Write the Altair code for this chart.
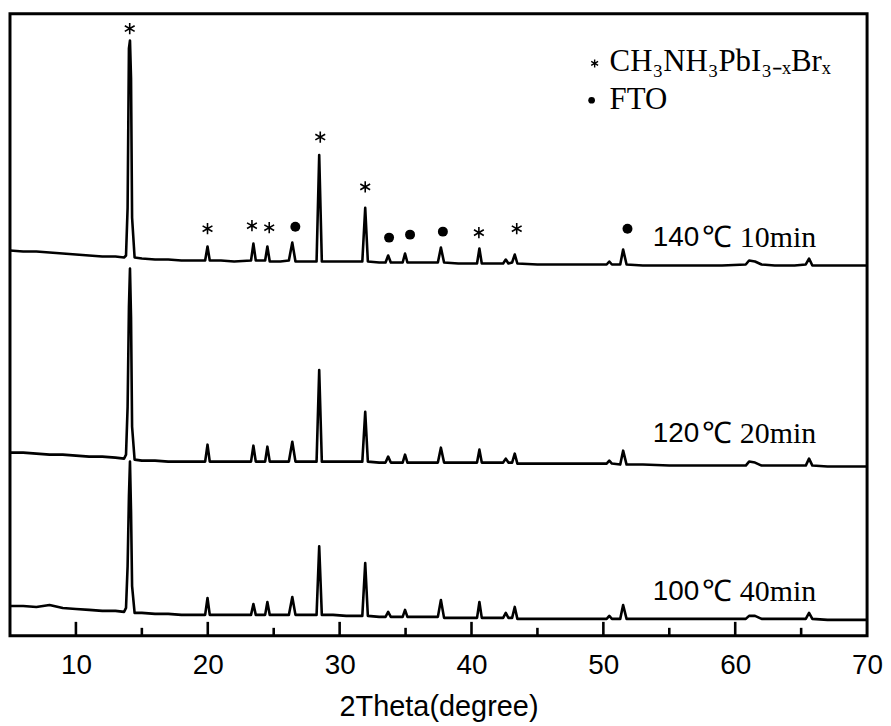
import altair as alt
import pandas as pd

# ---- data ----
two_theta = [5.0, 6.0, 7.0, 8.0, 9.0, 10.0, 11.0, 12.0, 13.0, 13.65,
             13.8, 13.92, 14.02, 14.1, 14.18, 14.26, 14.45,
             15.0, 16.0, 17.0, 18.0, 19.0, 19.8,
             19.98, 20.15, 21.0, 22.0,
             23.28, 23.46, 23.64,
             24.35, 24.52, 24.7,
             25.5, 26.15, 26.41, 26.65,
             27.5, 28.25, 28.45, 28.65,
             29.5, 30.5, 31.72, 31.94, 32.14,
             33.0, 33.48, 33.68, 33.88,
             34.78, 34.96, 35.14,
             36.5, 37.45, 37.68, 37.92,
             39.0, 40.42, 40.6, 40.78,
             42.4, 42.6, 42.8,
             43.08, 43.28, 43.48,
             45.0, 47.0, 49.0,
             50.25, 50.45, 50.65,
             51.28, 51.5, 51.76,
             53.0, 55.0, 57.0, 59.0,
             60.8, 61.05, 61.5, 62.0,
             63.0, 64.5,
             65.35, 65.6, 65.85,
             67.0, 68.5, 70.0]

intensity_140 = [387, 386, 386, 385, 384, 383, 382, 381, 381, 380,
                 382, 430, 590, 598, 560, 420, 380,
                 379, 378, 378, 377, 377, 377,
                 391, 377, 377, 376,
                 377, 394, 377,
                 377, 391, 376,
                 376, 377, 395, 376,
                 376, 376, 483, 376,
                 376, 376, 376, 430, 376,
                 375, 375, 382, 375,
                 375, 384, 375,
                 375, 375, 390, 375,
                 374, 374, 389, 374,
                 374, 378, 374,
                 375, 383, 374,
                 373, 373, 373,
                 373, 376, 373,
                 373, 388, 373,
                 372, 372, 372, 372,
                 373, 377, 376, 373,
                 372, 372,
                 373, 379, 372,
                 372, 372, 372]

intensity_120 = [184, 184, 183, 182, 182, 181, 180, 180, 179, 178,
                 182, 230, 330, 369, 320, 210, 177,
                 176, 176, 175, 175, 175, 175,
                 192, 175, 175, 175,
                 175, 191, 175,
                 175, 190, 175,
                 175, 175, 195, 175,
                 175, 175, 267, 175,
                 175, 175, 175, 225, 175,
                 174, 174, 180, 174,
                 174, 182, 174,
                 174, 174, 189, 174,
                 174, 174, 187, 174,
                 174, 178, 174,
                 174, 183, 173,
                 173, 173, 173,
                 173, 176, 173,
                 172, 186, 172,
                 172, 171, 171, 171,
                 171, 175, 174, 171,
                 171, 171,
                 171, 178, 171,
                 170, 170, 170]

intensity_100 = [30, 30, 29, 31, 28, 27, 26, 25, 25, 24,
                 28, 70, 140, 175, 125, 50, 23,
                 23, 22, 22, 21, 21, 21,
                 38, 21, 21, 21,
                 21, 32, 21,
                 21, 34, 21,
                 21, 21, 39, 21,
                 21, 21, 90, 21,
                 21, 20, 20, 73, 20,
                 19, 19, 24, 19,
                 19, 26, 19,
                 19, 19, 36, 18,
                 18, 18, 34, 18,
                 18, 23, 18,
                 18, 29, 17,
                 17, 17, 17,
                 17, 20, 17,
                 17, 31, 17,
                 17, 17, 17, 17,
                 17, 20, 20, 17,
                 17, 17,
                 17, 23, 17,
                 16, 16, 16]

series_names = ["140℃ 10min", "120℃ 20min", "100℃ 40min"]

# peak markers on the top pattern
star_theta = [14.08, 19.98, 23.35, 24.66, 28.53, 31.94, 40.56, 43.43]
star_level = [610, 409, 412, 410, 501, 451, 405, 409]
dot_theta = [26.64, 33.75, 35.34, 37.83, 51.83]
dot_level = [411, 400, 403, 406, 409]

# sample labels
label_temp = ["140", "120", "100"]
label_rest = ["℃ 10min", "℃ 20min", "℃ 40min"]
label_level = [400, 203, 44]

# legend
legend_text = ["CH₃NH₃PbI₃₋ₓBrₓ", "FTO"]
legend_level = [576, 538]

major_ticks = [10, 20, 30, 40, 50, 60]
minor_ticks = [15, 25, 35, 45, 55, 65]
tick_labels = [10, 20, 30, 40, 50, 60, 70]

# ---- build tables ----
rows = []
for name, vals in zip(series_names, [intensity_140, intensity_120, intensity_100]):
    assert len(vals) == len(two_theta)
    for t, v in zip(two_theta, vals):
        rows.append({"two_theta": t, "intensity": v, "series": name})
df = pd.DataFrame(rows)

xscale = alt.Scale(domain=[5, 70], nice=False)
yscale = alt.Scale(domain=[0, 625], nice=False, zero=False)

X = alt.X("two_theta:Q", scale=xscale,
          axis=alt.Axis(values=tick_labels, title="2Theta(degree)", grid=False,
                        ticks=False, tickSize=0, domain=False, labelFlush=False,
                        labelOverlap=False, labelFont="Liberation Sans", labelFontSize=28,
                        labelColor="black", labelPadding=16,
                        titleFont="Liberation Sans", titleFontSize=29,
                        titleFontWeight="normal", titleColor="black", titlePadding=13))
Y = alt.Y("intensity:Q", scale=yscale, axis=None)

lines = alt.Chart(df).mark_line(color="black", strokeWidth=2.6, strokeJoin="round").encode(
    x=X, y=Y, detail="series:N")

major = alt.Chart(pd.DataFrame({"two_theta": major_ticks})).mark_rule(
    color="black", strokeWidth=2.6).encode(x=X, y=alt.value(625), y2=alt.value(611))
minor = alt.Chart(pd.DataFrame({"two_theta": minor_ticks})).mark_rule(
    color="black", strokeWidth=2.6).encode(x=X, y=alt.value(625), y2=alt.value(617))

star_path = "M0,-1L0,1M-0.866,-0.5L0.866,0.5M-0.866,0.5L0.866,-0.5"
stars = alt.Chart(pd.DataFrame({"two_theta": star_theta, "intensity": star_level})).mark_point(
    shape=star_path, size=130, filled=False, color="black", strokeWidth=1.6, opacity=1).encode(x=X, y=Y)
dots = alt.Chart(pd.DataFrame({"two_theta": dot_theta, "intensity": dot_level})).mark_point(
    shape="circle", size=100, filled=True, color="black", opacity=1).encode(x=X, y=Y)

lab_df = pd.DataFrame({"two_theta": [57.28] * 3, "intensity": label_level,
                       "temp": label_temp, "rest": label_rest})
lab_num = alt.Chart(lab_df).mark_text(font="Liberation Sans", fontSize=28, align="right",
                                      baseline="middle", color="black").encode(
    x=X, y=Y, text="temp:N")
lab_rest = alt.Chart(lab_df).mark_text(font="Liberation Serif", fontSize=30, align="left",
                                       baseline="middle", color="black", dx=3).encode(
    x=X, y=Y, text="rest:N")

leg_df = pd.DataFrame({"two_theta": [50.47, 50.47], "intensity": legend_level, "label": legend_text})
leg_text = alt.Chart(leg_df).mark_text(font="Liberation Serif", fontSize=31, align="left",
                                       baseline="middle", color="black").encode(
    x=X, y=Y, text="label:N")
leg_star = alt.Chart(pd.DataFrame({"two_theta": [49.34], "intensity": [575]})).mark_point(
    shape=star_path, size=64, filled=False, color="black", strokeWidth=1.4, opacity=1).encode(x=X, y=Y)
leg_dot = alt.Chart(pd.DataFrame({"two_theta": [49.11], "intensity": [538]})).mark_point(
    shape="circle", size=45, filled=True, color="black", opacity=1).encode(x=X, y=Y)

chart = alt.layer(lines, major, minor, stars, dots, lab_num, lab_rest,
                  leg_text, leg_star, leg_dot).properties(
    width=861, height=625,
    autosize=alt.AutoSizeParams(type="none"),
    padding={"left": 2, "top": 4, "right": 16, "bottom": 100},
    background="white",
).configure_view(stroke="black", strokeWidth=3)

chart.save("out.html", embed_options={"renderer": "svg", "actions": False})
